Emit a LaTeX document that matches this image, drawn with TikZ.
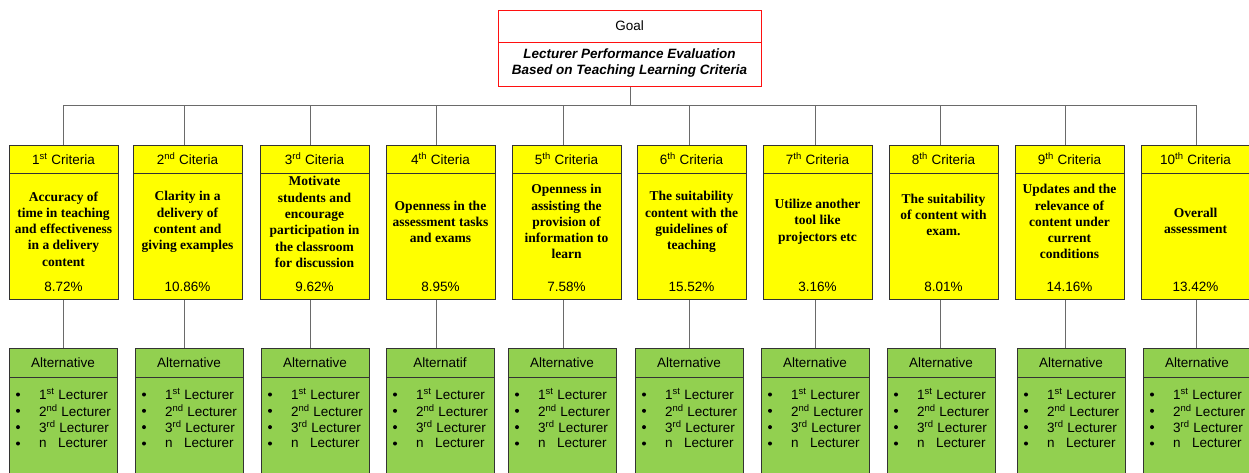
\documentclass[tikz,border=0pt]{standalone}
\usepackage{fontspec}
\setmainfont{Liberation Sans}
\newfontfamily\serifbf{Liberation Serif}
\definecolor{critfill}{HTML}{FFFF00}
\definecolor{altfill}{HTML}{92D050}
\definecolor{goalred}{HTML}{FF1010}
\definecolor{conngray}{HTML}{6A6A6A}
\definecolor{boxedge}{HTML}{333333}
\newcommand\fs{\fontsize{13.5}{16.3}\selectfont}
\tikzset{
  conn/.style={draw=conngray, line width=1pt},
  boxline/.style={draw=boxedge, line width=1pt},
  critbox/.style={draw=boxedge, fill=critfill, line width=1pt, minimum width=109pt, minimum height=154pt, anchor=north west, inner sep=0pt},
  altbox/.style={draw=boxedge, fill=altfill, line width=1pt, minimum width=108pt, minimum height=140pt, anchor=north west, inner sep=0pt},
  goalbox/.style={draw=goalred, fill=white, line width=1pt, minimum width=263pt, minimum height=76pt, anchor=north west, inner sep=0pt},
  bodytext/.style={font=\serifbf\bfseries\fs, align=center, inner sep=0pt},
  plain/.style={font=\fs, inner sep=0pt},
  item/.style={font=\fs, inner sep=0pt, anchor=west},
  dot/.style={circle, fill=black, inner sep=0pt, minimum size=4pt},
}
% #1 id, #2 crit left, #3 connector x, #4 header, #5 body, #6 body y, #7 percent, #8 alt left, #9 alt header
\newcommand\mkcrit[9]{%
  \node[critbox] (c#1) at (#2,145) {};
  \draw[boxline] ([yshift=-28pt]c#1.north west) -- ([yshift=-28pt]c#1.north east);
  \node[plain] (c#1h) at (#2+54.5,159) {#4};
  \node[bodytext] (c#1b) at (#2+54.5,#6) {#5};
  \node[plain] (c#1p) at (#2+54.5,287) {#7};
  \coordinate (k#1) at (#3,105);
  \draw[conn] (k#1) -- (k#1 |- c#1.north);
  \node[altbox] (a#1) at (#8,348) {};
  \draw[boxline] ([yshift=-29pt]a#1.north west) -- ([yshift=-29pt]a#1.north east);
  \node[plain] (a#1h) at (#8+54,362.5) {#9};
  \draw[conn] (c#1.south -| k#1) -- (a#1.north -| k#1);
  \node[dot] (a#1b1) at (#8+9,394.5) {};
  \node[dot] (a#1b2) at (#8+9,410.8) {};
  \node[dot] (a#1b3) at (#8+9,427.1) {};
  \node[dot] (a#1b4) at (#8+9,443.5) {};
  \node[item] (a#1t1) at (#8+30,394) {1\textsuperscript{st} Lecturer};
  \node[item] (a#1t2) at (#8+30,410.3) {2\textsuperscript{nd} Lecturer};
  \node[item] (a#1t3) at (#8+30,426.6) {3\textsuperscript{rd} Lecturer};
  \node[item] (a#1t4) at (#8+30,443) {\makebox[19pt][l]{n}Lecturer};
}
\begin{document}
\begin{tikzpicture}[x=1pt,y=-1pt]
\useasboundingbox (0,0) rectangle (1249,472);
\clip (0,0) rectangle (1249,472);
\fill[white] (0,0) rectangle (1249,472);
% goal
\node[goalbox] (g) at (498,10) {};
\draw[draw=goalred, line width=1pt] ([yshift=-32.5pt]g.north west) -- ([yshift=-32.5pt]g.north east);
\node[plain] (gh) at (629.5,26) {Goal};
\node[font=\bfseries\itshape\fontsize{13.5}{15.7}\selectfont, align=center, inner sep=0pt] (gt) at (629.5,63) {Lecturer Performance Evaluation\\Based on Teaching Learning Criteria};
\mkcrit{1}{9}{63}{1\textsuperscript{st} Criteria}{Accuracy of\\time in teaching\\and effectiveness\\in a delivery\\content}{229}{8.72\%}{9}{Alternative}
\mkcrit{2}{133}{184}{2\textsuperscript{nd} Citeria}{Clarity in a\\delivery of\\content and\\giving examples}{222}{10.86\%}{135}{Alternative}
\mkcrit{3}{260}{310}{3\textsuperscript{rd} Citeria}{Motivate\\students and\\encourage\\participation in\\the classroom\\for discussion}{222}{9.62\%}{261}{Alternative}
\mkcrit{4}{386}{436}{4\textsuperscript{th} Citeria}{Openness in the\\assessment tasks\\and exams}{221.7}{8.95\%}{386}{Alternatif}
\mkcrit{5}{512}{563}{5\textsuperscript{th} Criteria}{Openness in\\assisting the\\provision of\\information to\\learn}{221.7}{7.58\%}{508}{Alternative}
\mkcrit{6}{637}{689}{6\textsuperscript{th} Criteria}{The suitability\\content with the\\guidelines of\\teaching}{222}{15.52\%}{635}{Alternative}
\mkcrit{7}{763}{815}{7\textsuperscript{th} Criteria}{Utilize another\\tool like\\projectors etc}{221.7}{3.16\%}{761}{Alternative}
\mkcrit{8}{889}{940}{8\textsuperscript{th} Criteria}{The suitability\\of content with\\exam.}{215}{8.01\%}{887}{Alternative}
\mkcrit{9}{1015}{1065}{9\textsuperscript{th} Criteria}{Updates and the\\relevance of\\content under\\current\\conditions}{221.7}{14.16\%}{1017}{Alternative}
\mkcrit{10}{1141}{1196}{10\textsuperscript{th} Criteria}{Overall\\assessment}{221}{13.42\%}{1143}{Alternative}
% trunk
\draw[conn] (k1) -- (k10);
\draw[conn] (g.south) -- (g.south |- k1);
\end{tikzpicture}
\end{document}
